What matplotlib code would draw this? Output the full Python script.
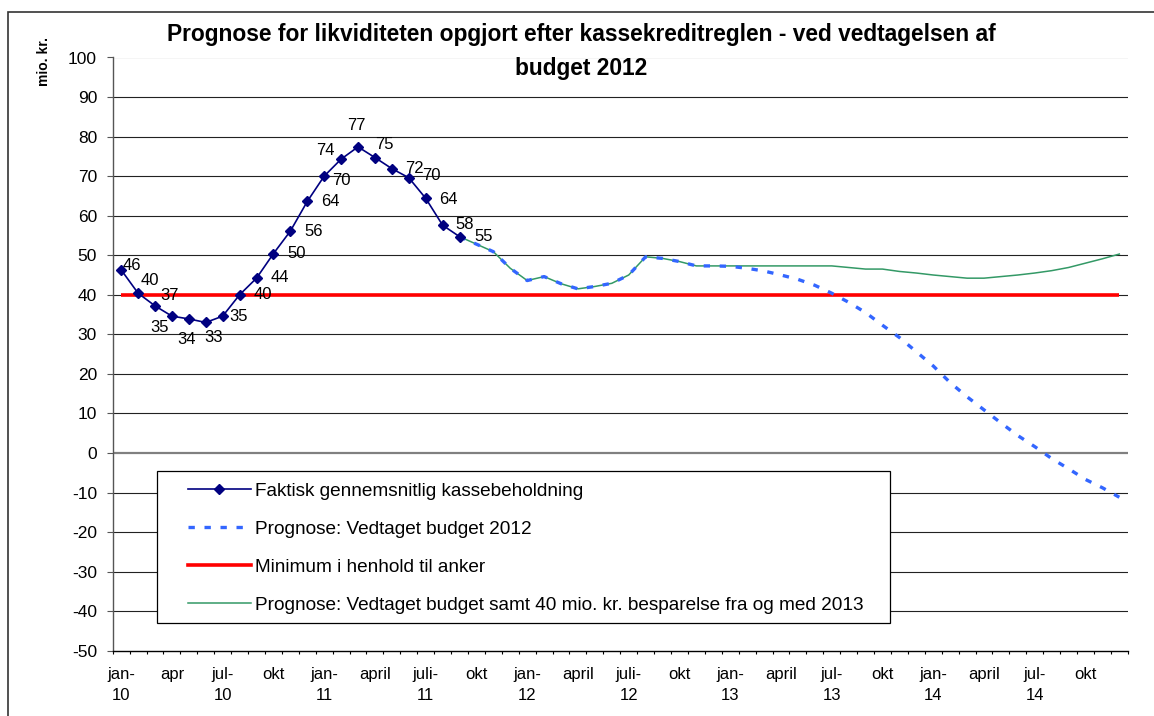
import numpy as np
import matplotlib
matplotlib.use("Agg")
import matplotlib.pyplot as plt
from matplotlib.patches import Rectangle
from matplotlib.lines import Line2D

plt.rcParams['font.family'] = ['Liberation Sans', 'DejaVu Sans']

# ---------------- data ----------------
months = [f"{m}-{y}" for y in range(10, 15) for m in
          ["jan", "feb", "mar", "apr", "maj", "jun", "jul", "aug", "sep", "okt", "nov", "dec"]]
tick_labels = ["jan-\n10", "apr", "jul-\n10", "okt", "jan-\n11", "april", "juli-\n11", "okt",
               "jan-\n12", "april", "juli-\n12", "okt", "jan-\n13", "april", "jul-\n13", "okt",
               "jan-\n14", "april", "jul-\n14", "okt"]

# Faktisk gennemsnitlig kassebeholdning (jan-10 .. sep-11)
actual = [46.3, 40.4, 37.2, 34.6, 33.9, 33.0, 34.6, 40.0, 44.2, 50.4, 56.1,
          63.6, 70.0, 74.3, 77.4, 74.7, 71.9, 69.6, 64.4, 57.6, 54.7]

# Prognose: Vedtaget budget 2012 (sep-11 .. dec-14)
budget_2012 = [54.7, 52.8, 50.9, 46.7, 43.6, 44.6, 42.8, 41.5, 42.1, 42.9,
               45.0, 49.6, 49.2, 48.4, 47.3, 47.3, 47.2, 46.7, 46.0, 45.0,
               43.9, 42.4, 40.4, 38.1, 35.5, 32.3, 29.2, 25.6, 22.0, 17.8,
               14.2, 10.9, 7.6, 4.4, 1.6, -1.4, -4.0, -6.7, -8.8, -11.2]

# Prognose: Vedtaget budget samt 40 mio. kr. besparelse (sep-11 .. dec-14)
budget_savings = [54.7, 52.8, 50.9, 46.7, 43.6, 44.6, 42.8, 41.5, 42.1, 42.9,
                  45.0, 49.6, 49.2, 48.4, 47.3, 47.3, 47.3, 47.3, 47.3, 47.3,
                  47.3, 47.3, 47.3, 46.9, 46.5, 46.5, 45.9, 45.5, 45.0, 44.6,
                  44.2, 44.2, 44.6, 45.0, 45.5, 46.1, 46.9, 48.0, 49.1, 50.3]

# Minimum i henhold til anker
minimum = [40] * len(months)

forecast_start = months.index("sep-11")

# label offsets in pixels (dx, dy) for the data labels
label_offsets = [(11, 4), (12, 13), (15, 10), (-12, -11), (-2, -21), (8, -15), (16, 0),
                 (23, 0), (23, 1), (23, 0), (23, 0), (23, 0), (17, -4), (-16, 9),
                 (-2, 21), (9, 13), (23, 0), (23, 2), (23, -1), (22, 1), (24, 0)]

# ---------------- figure ----------------
W, H = 1154, 716
fig = plt.figure(figsize=(W / 100, H / 100), dpi=100)
L, R, T, B = 112.7, 1127.8, 57.5, 650.7
ax = fig.add_axes([L / W, 1 - B / H, (R - L) / W, (B - T) / H])

x_all = np.arange(len(months))
x_act = x_all[:len(actual)]
x_fc = x_all[forecast_start:forecast_start + len(budget_2012)]

ax.set_xlim(-0.5, len(months) - 0.5)
ax.set_ylim(-50, 100)

# gridlines
yt = np.arange(-50, 101, 10)
for v in yt:
    if v == -50:
        continue
    if v == 100:
        ax.axhline(v, color='#d0d0d0', lw=1.0, zorder=1)
    elif v == 0:
        ax.axhline(v, color='#808080', lw=1.6, zorder=1)
    else:
        ax.axhline(v, color='#222222', lw=0.8, zorder=1)

ax.plot(x_all, minimum, color='#FF0000', lw=2.6, zorder=2,
        label='Minimum i henhold til anker', solid_capstyle='butt')
ax.plot(x_fc, budget_savings, color='#339966', lw=1.1, zorder=3,
        label='Prognose: Vedtaget budget samt 40 mio. kr. besparelse fra og med 2013')
ln_b, = ax.plot(x_fc, budget_2012, color='#3366FF', lw=2.4, zorder=3,
                linestyle=(0, (1.9, 2.9)), dash_capstyle='butt',
                label='Prognose: Vedtaget budget 2012')
ax.plot(x_act, actual, color='#000080', lw=1.2, marker='D', ms=4.8,
        mec='#000080', mfc='#000080', zorder=4,
        label='Faktisk gennemsnitlig kassebeholdning')

for xi, v, (dx, dy) in zip(x_act, actual, label_offsets):
    ax.annotate(f"{v:.0f}", (xi, v), xytext=(dx, dy), textcoords='offset pixels',
                ha='center', va='center', fontsize=12, color='black', zorder=5)

# axes styling
for s in ['top', 'right']:
    ax.spines[s].set_visible(False)
ax.spines['left'].set_color('#555555')
ax.spines['left'].set_linewidth(1.0)
ax.spines['bottom'].set_color('black')
ax.spines['bottom'].set_linewidth(1.0)

ax.set_yticks(yt)
ax.set_yticklabels([str(v) for v in yt])
ax.tick_params(axis='y', direction='out', length=4.3, width=0.8, color='#555555',
               labelsize=12.5, pad=7)

ax.set_xticks(np.arange(0, len(months), 3))
ax.set_xticklabels(tick_labels)
ax.set_xticks(np.arange(-0.5, len(months), 1), minor=True)
ax.tick_params(axis='x', which='major', length=0, labelsize=12, pad=12)
ax.tick_params(axis='x', which='minor', direction='out', length=2.4, width=0.8, color='black')
for t in ax.get_xticklabels():
    t.set_linespacing(1.45)

# title and y label
fig.text(581 / W, 1 - 35 / H, "Prognose for likviditeten opgjort efter kassekreditreglen - ved vedtagelsen af",
         ha='center', va='center', fontsize=16.4, fontweight='bold')
fig.text(581 / W, 1 - 68 / H, "budget 2012", ha='center', va='center', fontsize=16.4, fontweight='bold')
fig.text(44 / W, 1 - 62 / H, "mio. kr.", rotation=90, ha='center', va='center',
         fontsize=10, fontweight='bold')

# legend box
box = Rectangle((156.7 / W, 1 - 622.7 / H), (890 - 156.7) / W, (622.7 - 471) / H,
                transform=fig.transFigure, facecolor='white', edgecolor='black',
                lw=0.9, zorder=6, clip_on=False)
ax.add_patch(box)

h_act = Line2D([], [], color='#000080', lw=1.2, marker='D', ms=4.8, mec='#000080', mfc='#000080')
h_b = Line2D([], [], color='#3366FF', lw=2.4, linestyle=(0, (1.9, 2.9)), dash_capstyle='butt')
h_min = Line2D([], [], color='#FF0000', lw=2.6)
h_s = Line2D([], [], color='#339966', lw=1.1)
leg = ax.legend([h_act, h_b, h_min, h_s],
                ['Faktisk gennemsnitlig kassebeholdning', 'Prognose: Vedtaget budget 2012',
                 'Minimum i henhold til anker',
                 'Prognose: Vedtaget budget samt 40 mio. kr. besparelse fra og med 2013'],
                loc='upper left', bbox_to_anchor=(187.7 / W, 1 - 482.5 / H),
                bbox_transform=fig.transFigure, frameon=False, fontsize=13.7,
                handlelength=3.33, handletextpad=0.21, labelspacing=1.09,
                borderpad=0, borderaxespad=0)
leg.set_zorder(7)

# outer frame
frame = Rectangle((8 / W, -0.05), 1.2, 1 - 12 / H + 0.05, transform=fig.transFigure,
                  facecolor='none', edgecolor='#333333', lw=1.2, clip_on=False)
fig.patches.append(frame)

fig.savefig("out.png", dpi=100)
